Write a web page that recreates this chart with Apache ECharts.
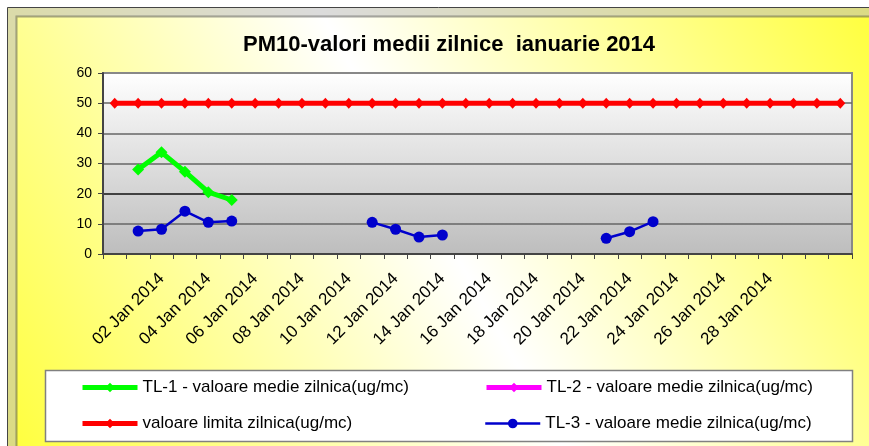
<!DOCTYPE html>
<html>
<head>
<meta charset="utf-8">
<script src="https://cdn.jsdelivr.net/npm/echarts@6/dist/echarts.min.js"></script>
<style>
  html, body { margin: 0; padding: 0; background: #fff; }
  #chart { width: 869px; height: 446px; }
</style>
</head>
<body>
<div id="chart"></div>
<script>
// categories: one per day, first slot is the day before the month starts
const categories = [
  '31 Dec 2013', '01 Jan 2014', '02 Jan 2014', '03 Jan 2014', '04 Jan 2014', '05 Jan 2014',
  '06 Jan 2014', '07 Jan 2014', '08 Jan 2014', '09 Jan 2014', '10 Jan 2014', '11 Jan 2014',
  '12 Jan 2014', '13 Jan 2014', '14 Jan 2014', '15 Jan 2014', '16 Jan 2014', '17 Jan 2014',
  '18 Jan 2014', '19 Jan 2014', '20 Jan 2014', '21 Jan 2014', '22 Jan 2014', '23 Jan 2014',
  '24 Jan 2014', '25 Jan 2014', '26 Jan 2014', '27 Jan 2014', '28 Jan 2014', '29 Jan 2014',
  '30 Jan 2014', '31 Jan 2014'
];

// labels the original axis actually prints
const xTickLabels = [
  '02 Jan 2014', '04 Jan 2014', '06 Jan 2014', '08 Jan 2014', '10 Jan 2014', '12 Jan 2014',
  '14 Jan 2014', '16 Jan 2014', '18 Jan 2014', '20 Jan 2014', '22 Jan 2014', '24 Jan 2014',
  '26 Jan 2014', '28 Jan 2014'
];

const yTicks = [0, 10, 20, 30, 40, 50, 60];

const tl1 = [null, 28.0, 33.7, 27.3, 20.5, 17.9, null, null, null, null, null, null,
  null, null, null, null, null, null, null, null, null, null, null, null,
  null, null, null, null, null, null, null, null];

const tl2 = [null, null, null, null, null, null, null, null, null, null, null, null,
  null, null, null, null, null, null, null, null, null, null, null, null,
  null, null, null, null, null, null, null, null];

const limita = [50, 50, 50, 50, 50, 50, 50, 50, 50, 50, 50, 50, 50, 50, 50, 50,
  50, 50, 50, 50, 50, 50, 50, 50, 50, 50, 50, 50, 50, 50, 50, 50];

const tl3 = [null, 7.6, 8.2, 14.2, 10.5, 10.9, null, null, null, null, null, 10.5,
  8.2, 5.6, 6.3, null, null, null, null, null, null, 5.2, 7.4, 10.7,
  null, null, null, null, null, null, null, null];

const names = [
  'TL-1 - valoare medie zilnica(ug/mc)',
  'TL-2 - valoare medie zilnica(ug/mc)',
  'valoare limita zilnica(ug/mc)',
  'TL-3 - valoare medie zilnica(ug/mc)'
];

const font = "'Liberation Sans', Arial, sans-serif";

const chart = echarts.init(document.getElementById('chart'), null, { renderer: 'canvas' });

const legendText = { color: '#000', fontSize: 17, fontFamily: font };
const legendItem = (name, left, top, lineWidth) => ({
  data: [name],
  left: left,
  top: top,
  itemWidth: 55,
  itemHeight: 12,
  itemGap: 0,
  padding: 0,
  selectedMode: false,
  lineStyle: { width: lineWidth },
  textStyle: legendText
});

const option = {
  backgroundColor: '#fff',
  animation: false,
  title: {
    text: 'PM10-valori medii zilnice  ianuarie 2014',
    left: 243,
    top: 34,
    padding: 0,
    textStyle: { fontSize: 22, fontWeight: 'bold', color: '#000', fontFamily: font }
  },
  graphic: [
    {
      type: 'rect', z: -20, silent: true,
      shape: { x: 7.5, y: 7.5, width: 900, height: 500 },
      style: {
        fill: new echarts.graphic.LinearGradient(0, 1, 1, 0, [
          { offset: 0, color: '#ffff30' },
          { offset: 0.5, color: '#ffffff' },
          { offset: 1, color: '#ffff30' }
        ]),
        stroke: '#444', lineWidth: 1
      }
    },
    {
      type: 'rect', z: -19, silent: true,
      shape: { x: 12, y: 12, width: 900, height: 500 },
      style: { fill: null, stroke: 'rgba(190,190,190,0.55)', lineWidth: 8 }
    },
    {
      type: 'rect', z: -18, silent: true,
      shape: { x: 16.5, y: 16.5, width: 900, height: 500 },
      style: { fill: null, stroke: 'rgba(90,90,90,0.55)', lineWidth: 2 }
    },
    {
      type: 'rect', z: -5, silent: true,
      shape: { x: 45.5, y: 370.5, width: 807, height: 71 },
      style: { fill: '#fff', stroke: '#808080', lineWidth: 1.5 }
    }
  ],
  legend: [
    legendItem(names[0], 80, 379, 5),
    legendItem(names[1], 484, 379, 5),
    legendItem(names[2], 80, 415, 5),
    legendItem(names[3], 484, 415, 2.5)
  ],
  grid: {
    left: 103,
    right: 17,
    top: 73,
    bottom: 192,
    show: true,
    borderColor: '#888',
    borderWidth: 2,
    backgroundColor: new echarts.graphic.LinearGradient(0, 0, 0, 1, [
      { offset: 0, color: '#ffffff' },
      { offset: 1, color: '#bdbdbd' }
    ])
  },
  xAxis: {
    type: 'category',
    data: categories,
    boundaryGap: true,
    axisLine: { lineStyle: { color: '#444', width: 2 } },
    axisTick: { show: true, interval: 0, length: 5, lineStyle: { color: '#444', width: 1 } },
    axisLabel: {
      interval: (index, value) => xTickLabels.indexOf(value) >= 0,
      rotate: 45,
      margin: 22,
      color: '#000',
      fontSize: 17,
      fontFamily: font
    },
    splitLine: { show: false }
  },
  yAxis: {
    type: 'value',
    min: yTicks[0],
    max: yTicks[yTicks.length - 1],
    interval: 10,
    axisLine: { show: true, lineStyle: { color: '#444', width: 2 } },
    axisTick: { show: true, length: 5, lineStyle: { color: '#444', width: 1 } },
    axisLabel: { color: '#000', fontSize: 14, fontFamily: font, margin: 11 },
    splitLine: {
      show: true,
      lineStyle: { color: ['#666', '#666', '#111', '#666', '#666', '#666', '#888'], width: 1.5 }
    }
  },
  series: [
    {
      name: names[0],
      type: 'line',
      data: tl1,
      connectNulls: false,
      symbol: 'diamond',
      symbolSize: [12, 12],
      lineStyle: { color: '#00ff00', width: 5 },
      itemStyle: { color: '#00ff00' }
    },
    {
      name: names[1],
      type: 'line',
      data: tl2,
      symbol: 'diamond',
      symbolSize: [10, 10],
      lineStyle: { color: '#ff00ff', width: 5 },
      itemStyle: { color: '#ff00ff' }
    },
    {
      name: names[2],
      type: 'line',
      data: limita,
      symbol: 'diamond',
      symbolSize: [10, 11],
      lineStyle: { color: '#ff0000', width: 5 },
      itemStyle: { color: '#ff0000' }
    },
    {
      name: names[3],
      type: 'line',
      data: tl3,
      connectNulls: false,
      symbol: 'circle',
      symbolSize: 11,
      lineStyle: { color: '#0000cc', width: 2.5 },
      itemStyle: { color: '#0000cc' }
    }
  ]
};

chart.setOption(option);
</script>
</body>
</html>
